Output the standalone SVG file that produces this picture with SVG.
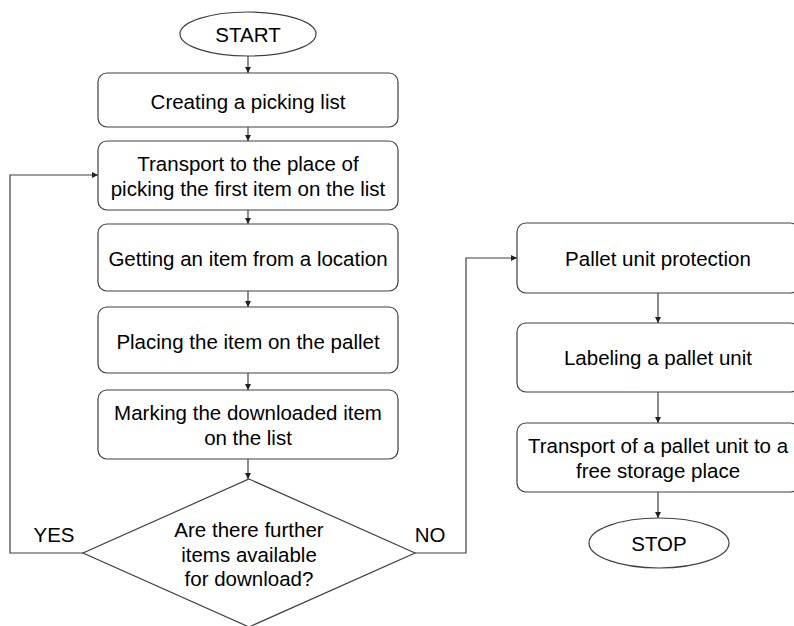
<svg xmlns="http://www.w3.org/2000/svg" width="794" height="626" viewBox="0 0 794 626">
<style>
.n{fill:#fff;stroke:#404040;stroke-width:1.2}
.t{font-family:"Liberation Sans",Arial,sans-serif;font-size:20.5px;fill:#000;text-anchor:middle;dominant-baseline:central}
.c{fill:none;stroke:#404040;stroke-width:1.2}
</style>
<defs>
<marker id="a" viewBox="0 0 10 10" refX="10" refY="5" markerWidth="6" markerHeight="6" markerUnits="userSpaceOnUse" orient="auto">
<path d="M0,0 L10,5 L0,10 z" fill="#202020"/>
</marker>
</defs>
<rect width="794" height="626" fill="#fff"/>
<g id="connectors">
<path class="c" d="M248,56 V73" marker-end="url(#a)"/>
<path class="c" d="M248,127 V141" marker-end="url(#a)"/>
<path class="c" d="M248,210 V224" marker-end="url(#a)"/>
<path class="c" d="M248,291 V307" marker-end="url(#a)"/>
<path class="c" d="M248,373 V390" marker-end="url(#a)"/>
<path class="c" d="M248,459 V479" marker-end="url(#a)"/>
<path class="c" d="M83,553 H10 V175 H98" marker-end="url(#a)"/>
<path class="c" d="M415,553 H466 V258 H517" marker-end="url(#a)"/>
<path class="c" d="M658,293 V323" marker-end="url(#a)"/>
<path class="c" d="M658,392 V423" marker-end="url(#a)"/>
<path class="c" d="M658,492 V518" marker-end="url(#a)"/>
<text class="t" x="54" y="534">YES</text>
<text class="t" x="430" y="534">NO</text>
</g>
<g id="start"><ellipse class="n" cx="248" cy="34" rx="68" ry="22"/><text class="t" x="248" y="34">START</text></g>
<g id="create"><rect class="n" x="98" y="73" width="300" height="54" rx="9"/><text class="t" x="248" y="101">Creating a picking list</text></g>
<g id="transport"><rect class="n" x="98" y="141" width="300" height="69" rx="9"/><text class="t" x="248" y="163">Transport to the place of</text><text class="t" x="248" y="188">picking the first item on the list</text></g>
<g id="getting"><rect class="n" x="98" y="224" width="300" height="67" rx="9"/><text class="t" x="248" y="258">Getting an item from a location</text></g>
<g id="placing"><rect class="n" x="98" y="307" width="300" height="66" rx="9"/><text class="t" x="248" y="341">Placing the item on the pallet</text></g>
<g id="marking"><rect class="n" x="98" y="390" width="300" height="69" rx="9"/><text class="t" x="248" y="412">Marking the downloaded item</text><text class="t" x="248" y="437">on the list</text></g>
<g id="decision"><polygon class="n" points="249,479 415,553 249,627 83,553"/><text class="t" x="249" y="529">Are there further</text><text class="t" x="249" y="554">items available</text><text class="t" x="249" y="578">for download?</text></g>
<g id="protection"><rect class="n" x="517" y="223" width="282" height="70" rx="9"/><text class="t" x="658" y="258">Pallet unit protection</text></g>
<g id="labeling"><rect class="n" x="517" y="323" width="282" height="69" rx="9"/><text class="t" x="658" y="357">Labeling a pallet unit</text></g>
<g id="transport2"><rect class="n" x="517" y="423" width="282" height="69" rx="9"/><text class="t" x="658" y="445">Transport of a pallet unit to a</text><text class="t" x="658" y="470">free storage place</text></g>
<g id="stop"><ellipse class="n" cx="659" cy="543" rx="70" ry="25"/><text class="t" x="659" y="543">STOP</text></g>
</svg>
